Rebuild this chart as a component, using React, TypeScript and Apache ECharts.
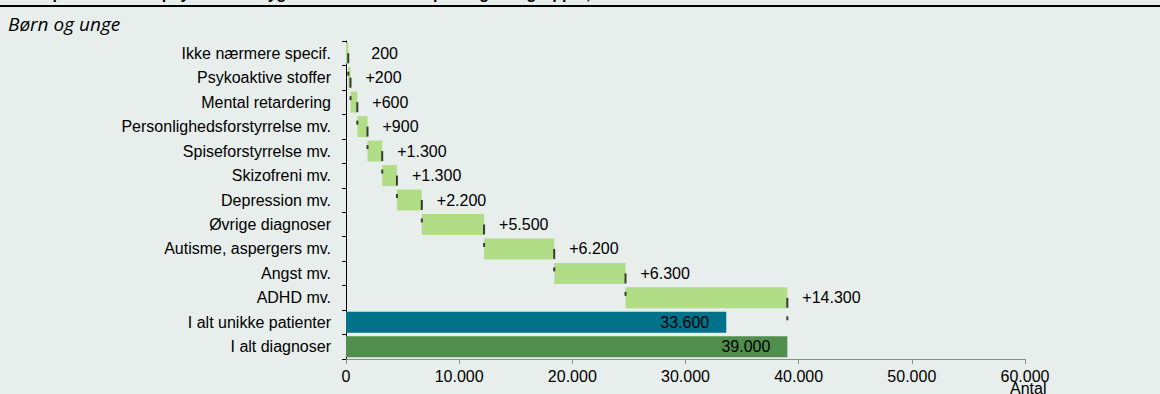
import React, { useEffect, useRef } from "react";
import * as echarts from "echarts";

const categories = [
  "Ikke nærmere specif.",
  "Psykoaktive stoffer",
  "Mental retardering",
  "Personlighedsforstyrrelse mv.",
  "Spiseforstyrrelse mv.",
  "Skizofreni mv.",
  "Depression mv.",
  "Øvrige diagnoser",
  "Autisme, aspergers mv.",
  "Angst mv.",
  "ADHD mv.",
  "I alt unikke patienter",
  "I alt diagnoser",
];
const increments = [200, 200, 600, 900, 1300, 1300, 2200, 5500, 6200, 6300, 14300];
const totals = [33600, 39000];
const totalColors = ["#00728a", "#4f8e4c"];
const xMin = 0;
const xMax = 60000;
const xInterval = 10000;

const fmt = (n: number) => String(n).replace(/\B(?=(\d{3})+(?!\d))/g, ".");

export default function App() {
  const ref = useRef<HTMLDivElement>(null);
  useEffect(() => {
    if (!ref.current) return;
    const chart = echarts.init(ref.current, undefined, { renderer: "svg" });
    let cum = 0;
    const base: any[] = [];
    const ends: number[] = [];
    increments.forEach((v) => {
      base.push(cum);
      cum += v;
      ends.push(cum);
    });
    const baseData = [...base, "-", "-"];
    const incData: any[] = increments.map((v, i) =>
      i === 0 ? { value: v, label: { distance: 23, formatter: fmt(v) } } : v
    );
    incData.push("-", "-");
    const totalData: any[] = categories.map(() => "-");
    totals.forEach((t, k) => {
      totalData[increments.length + k] = { value: t, itemStyle: { color: totalColors[k] } };
    });
    const rightMarks = ends.map((e, i) => [e, categories[i]]);
    const leftMarks = ends.map((e, i) => [e, categories[i + 1]]);

    const font = "Liberation Sans, Arial, sans-serif";
    const fs = 16;
    chart.setOption({
      animation: false,
      backgroundColor: "#e8eeeb",
      grid: { left: 346, right: 135, top: 41, bottom: 35, containLabel: false },
      xAxis: {
        type: "value",
        min: xMin,
        max: xMax,
        interval: xInterval,
        axisLine: { show: true, lineStyle: { color: "#8c8c8c", width: 1 } },
        axisTick: { show: true, length: 5, lineStyle: { color: "#8c8c8c" } },
        splitLine: { show: false },
        axisLabel: {
          color: "#000",
          fontFamily: font,
          fontSize: fs,
          margin: 9,
          formatter: (v: number) => fmt(v),
        },
      },
      yAxis: {
        type: "category",
        data: categories,
        inverse: true,
        axisLine: { show: true, lineStyle: { color: "#000", width: 1 } },
        axisTick: { show: true, length: 4, lineStyle: { color: "#000" } },
        axisLabel: { color: "#000", fontFamily: font, fontSize: fs, margin: 15 },
        splitLine: { show: false },
      },
      series: [
        {
          type: "bar",
          stack: "w",
          data: baseData,
          barWidth: 21,
          itemStyle: { color: "transparent" },
          silent: true,
        },
        {
          type: "bar",
          stack: "w",
          data: incData,
          barWidth: 21,
          itemStyle: { color: "#b2dd87" },
          label: {
            show: true,
            position: "right",
            distance: 15,
            color: "#000",
            fontFamily: font,
            fontSize: fs,
            formatter: (p: any) => "+" + fmt(p.value),
          },
        },
        {
          type: "bar",
          stack: "w",
          data: totalData,
          barWidth: 21,
          label: {
            show: true,
            position: "insideRight",
            distance: 17,
            color: "#000",
            fontFamily: font,
            fontSize: fs,
            formatter: (p: any) => fmt(p.value),
          },
        },
        {
          type: "scatter",
          data: rightMarks,
          symbol: "rect",
          symbolSize: [2, 10],
          symbolOffset: [0, 5],
          itemStyle: { color: "#111" },
          z: 5,
        },
        {
          type: "scatter",
          data: leftMarks,
          symbol: "rect",
          symbolSize: [2, 4],
          symbolOffset: [0, -4],
          itemStyle: { color: "#111" },
          z: 5,
        },
      ],
      graphic: [
        {
          type: "text",
          left: 8,
          top: -15,
          style: {
            text: "Antal patienter i det psykiatriske sygehusvæsen fordelt på diagnosegrupper, 2019",
            font: "bold 16px Liberation Sans, Arial, sans-serif",
            fill: "#000",
          },
        },
        {
          type: "rect",
          shape: { x: 0, y: 5, width: 1160, height: 2 },
          style: { fill: "#000" },
        },
        {
          type: "text",
          left: 8,
          top: 14,
          style: {
            text: "Børn og unge",
            font: "italic 19px Open Sans, sans-serif",
            fill: "#000",
          },
        },
        {
          type: "text",
          left: 1010,
          top: 380,
          style: {
            text: "Antal",
            font: "16px Liberation Sans, Arial, sans-serif",
            fill: "#000",
          },
        },
      ],
    });
    return () => chart.dispose();
  }, []);
  return (
    <div
      ref={ref}
      style={{ position: "fixed", left: 0, top: 0, width: 1160, height: 394 }}
    />
  );
}
